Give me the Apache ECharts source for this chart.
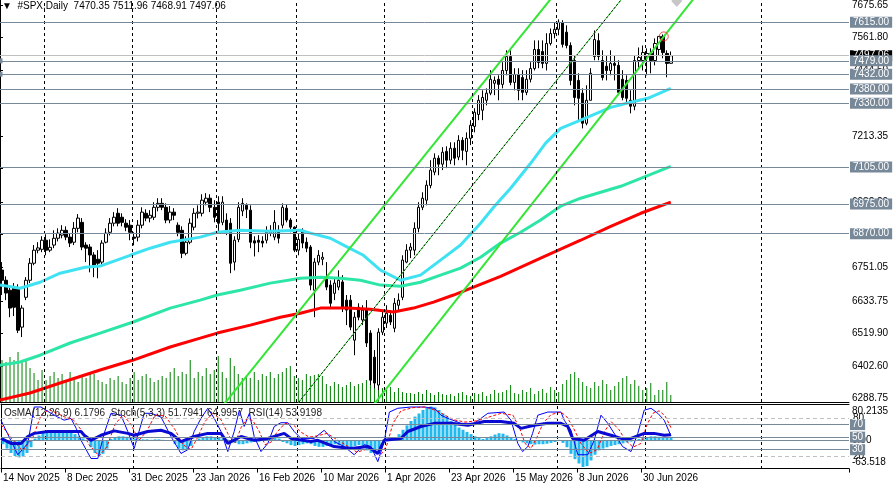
<!DOCTYPE html>
<html>
<head>
<meta charset="utf-8">
<title>#SPX,Daily</title>
<script src="https://cdn.jsdelivr.net/npm/echarts@6.0.0/dist/echarts.min.js"></script>
<style>
  * { margin: 0; padding: 0; }
  body { background: #ffffff; }
  #main { width: 894px; height: 489px; }
</style>
</head>
<body>
<div id="main"></div>
<script>
// daily bars from 14 Nov 2025, each [open, close, low, high]
var candles = [
  [6742,6706,6654,6770],[6706,6661,6636,6720],[6671,6608,6576,6689],[6682,6611,6580,6696],[6678,6530,6520,6692],[6541,6608,6506,6618],
  [6646,6706,6636,6717],[6706,6766,6696,6784],[6766,6812,6759,6830],[6812,6820,6801,6840],[6815,6847,6805,6861],[6847,6812,6794,6868],
  [6812,6822,6805,6850],[6830,6854,6819,6882],[6854,6872,6843,6889],[6865,6882,6854,6900],[6882,6858,6847,6896],[6858,6837,6823,6872],
  [6840,6889,6830,6911],[6889,6925,6875,6939],[6910,6823,6812,6925],[6830,6819,6770,6840],[6823,6795,6734,6833],[6795,6759,6717,6805],
  [6780,6766,6713,6812],[6770,6837,6759,6847],[6840,6872,6836,6889],[6875,6907,6864,6925],[6907,6928,6896,6946],[6942,6907,6896,6960],
  [6928,6910,6896,6942],[6907,6893,6879,6921],[6900,6875,6847,6918],[6858,6854,6829,6875],[6858,6900,6843,6918],[6900,6946,6889,6963],
  [6942,6925,6914,6956],[6925,6935,6910,6953],[6928,6963,6918,6981],[6963,6977,6949,6995],[6977,6963,6953,6995],[6963,6918,6907,6977],
  [6918,6946,6907,6967],[6946,6935,6918,6960],[6900,6875,6861,6910],[6882,6801,6784,6896],[6801,6840,6794,6861],[6840,6907,6833,6924],
  [6893,6942,6882,6960],[6942,6946,6924,6970],[6942,6988,6931,7009],[6981,6995,6970,7013],[6995,6963,6946,7009],[6963,6928,6910,6988],
  [6981,6907,6872,7002],[6910,6981,6900,7002],[6918,6882,6865,6942],[6907,6766,6731,6925],[6770,6847,6741,6861],[6850,6963,6840,6981],
  [6950,6977,6932,6995],[6970,6956,6925,6977],[6953,6840,6819,6970],[6845,6837,6790,6861],[6847,6840,6805,6865],[6844,6837,6822,6861],
  [6847,6875,6836,6896],[6872,6882,6861,6900],[6858,6910,6847,6953],[6882,6854,6836,6900],[6900,6963,6889,6977],[6960,6918,6910,6974],
  [6918,6893,6875,6925],[6893,6812,6805,6896],[6812,6850,6794,6871],[6882,6837,6819,6889],[6840,6819,6805,6857],[6823,6689,6671,6830],
  [6671,6770,6576,6784],[6770,6794,6759,6812],[6780,6787,6759,6805],[6717,6682,6671,6770],[6689,6625,6611,6706],[6660,6696,6636,6713],
  [6682,6706,6671,6741],[6700,6611,6594,6724],[6636,6601,6548,6654],[6636,6541,6530,6654],[6495,6576,6442,6594],[6611,6576,6565,6625],
  [6566,6601,6548,6618],[6601,6485,6471,6636],[6520,6354,6337,6530],[6435,6344,6326,6460],[6337,6523,6319,6537],[6523,6576,6513,6594],
  [6555,6590,6538,6618],[6583,6559,6548,6601],[6537,6625,6523,6643],[6618,6636,6601,6660],[6646,6777,6636,6794],[6770,6812,6766,6833],
  [6812,6823,6784,6837],[6812,6889,6794,6910],[6889,6963,6875,6981],[6963,6995,6953,7016],[6988,7041,6970,7058],[7040,7094,7030,7129],
  [7087,7136,7076,7153],[7136,7115,7076,7146],[7115,7157,7094,7175],[7160,7129,7101,7178],[7129,7171,7115,7192],[7171,7136,7111,7192],
  [7140,7199,7129,7217],[7199,7164,7129,7210],[7160,7206,7111,7227],[7206,7252,7182,7270],[7248,7298,7227,7312],[7290,7340,7270,7358],
  [7305,7350,7270,7375],[7340,7365,7322,7382],[7365,7414,7358,7446],[7400,7410,7358,7424],[7414,7396,7340,7428],[7396,7445,7382,7474],
  [7445,7494,7428,7516],[7494,7403,7393,7516],[7403,7431,7375,7453],[7431,7375,7340,7453],[7420,7368,7340,7446],[7368,7414,7358,7446],
  [7414,7452,7403,7474],[7452,7519,7445,7551],[7519,7473,7453,7551],[7512,7470,7453,7551],[7470,7540,7445,7576],[7540,7575,7533,7593],
  [7575,7590,7558,7615],[7590,7615,7569,7625],[7612,7537,7526,7622],[7580,7533,7523,7604],[7533,7410,7393,7544],[7480,7350,7322,7498],
  [7410,7347,7270,7435],[7365,7259,7241,7382],[7259,7340,7252,7393],[7340,7435,7340,7453],[7494,7554,7481,7586],[7550,7494,7481,7576],
  [7480,7420,7410,7516],[7460,7445,7410,7498],[7445,7470,7428,7516],[7470,7463,7410,7498],[7463,7368,7358,7481],[7414,7350,7340,7446],
  [7410,7347,7333,7428],[7340,7319,7294,7375],[7319,7480,7305,7498],[7480,7491,7453,7526],[7480,7508,7445,7533],[7494,7505,7428,7523],
  [7505,7480,7435,7523],[7480,7540,7463,7558],[7519,7565,7498,7566],[7565,7508,7488,7572],[7505,7470,7421,7516],[7470.35,7497.06,7468.91,7511.96]
];

var volumes = [
  42,40,45,42,50,40,42,34,29,22,32,22,26,30,24,28,22,30,25,20,26,
  24,30,28,22,20,18,24,22,26,20,18,24,30,22,26,28,24,20,22,26,
  24,30,34,26,30,28,42,24,30,26,34,28,32,46,30,24,44,36,28,24,
  26,24,30,22,28,26,30,24,28,30,34,36,26,24,22,28,26,
  27,28,26,18,16,20,18,15,17,20,16,18,19,22,18,20,17,14,12,15,10,14,10,
  9,9,8,10,8,12,9,7,10,8,7,8,6,9,10,7,6,9,8,10,6,8,12,9,
  10,12,17,9,8,12,10,14,8,11,13,9,15,12,10,
  18,22,28,30,24,20,16,14,20,16,22,18,12,16,20,24,26,18,22,16,
  12,14,19,7,12,12,20,7
];

var osma = [
  -8,-18,-28,-35,-38,-36,-28,-15,5,12,18,22,24,24,23,22,20,18,15,10,5,0,
  -15,-28,-35,-30,-18,4,8,10,10,9,8,5,3,3,3,2,3,3,2,1,0,
  -8,-18,-22,-20,-12,2,5,8,10,10,8,6,5,3,-2,-5,-8,-8,-6,-4,-3,-2,0,3,5,6,5,
  -3,-6,-10,-12,-10,-8,-6,-8,-12,-14,-14,-12,-10,-8,-10,-14,-16,-15,-12,-10,-15,-22,-28,-26,-18,
  2,5,4,8,15,25,35,45,55,62,70,75,78,76,70,62,55,45,38,30,25,20,15,
  10,6,4,6,10,14,17,16,12,8,4,-1,-4,-6,-8,-9,-8,-8,-7,-5,-3,2,
  -5,-15,-30,-42,-52,-60,-58,-45,-32,-22,-18,-15,-12,-10,-8,-6,-4,-2,
  2,4,6,8,10,10,9,8,7,6.1796
];

// [bar position, value]
var stochMain = [
  [0,77],[4.2,22],[6.7,40],[8.3,98],[10,98],[12.5,88],[14.2,82],[15.8,77],[17.5,80],[18.8,64],[20,45],[22.5,16],
  [24.2,16],[25.8,56],[27.5,88],[30,85],[31.7,59],[33.3,32],[35.8,88],[37.5,88],[40,82],[42.5,51],[45,24],[46.7,30],
  [48.3,59],[50,80],[51.7,96],[53.3,80],[55,59],[56.7,27],[58.3,59],[59.6,93],[60.8,67],[62.1,88],[63.3,51],[65,27],
  [66.7,40],[68.3,67],[70,73],[71.7,73],[73.3,59],[75,48],[78.3,48],[80.8,61],[83.3,43],[85.8,35],[88.3,22],[90.8,38],
  [92.5,35],[94.2,11],[95.8,43],[97.1,90],[99.2,96],[102.5,98],[105.8,98],[108.3,96],[110,85],[111.7,80],[115,72],
  [118.3,72],[121.7,88],[125.8,90],[127.5,77],[129.2,40],[130.4,27],[131.7,35],[132.9,56],[134.2,85],[136.7,90],
  [140,90],[140.8,77],[142.5,61],[144.2,22],[146.7,22],[148.3,45],[150,85],[151.7,72],[153.8,51],[155.4,35],
  [157.5,27],[159.2,56],[160.8,93],[162.5,96],[164.2,88],[165.8,77],[167.5,51.7941]
];
var stochSignal = [
  [0,70],[3,45],[5.5,28],[8,50],[10,85],[12,94],[14,88],[16,82],[18,78],[20,62],[22,38],[24.5,20],[26.5,35],
  [28.5,70],[30.5,86],[32.5,70],[34.5,45],[36.5,60],[38.5,85],[41,84],[43.5,62],[45.5,38],[47.5,30],[49,48],
  [51,75],[53,88],[55,78],[57,52],[58.5,40],[60,65],[61.5,80],[63,76],[64.5,60],[66,38],[67.5,42],[69,58],
  [71,72],[73,70],[75,58],[77,50],[79,52],[81.5,56],[84,46],[86.5,36],[89,26],[91,30],[93,32],[95,22],[96.5,38],
  [98,72],[100,92],[103,97],[106,98],[109,92],[111,85],[113,78],[116,74],[119,76],[122,82],[125,88],[128,85],
  [129.8,62],[131,40],[132.5,32],[134,50],[135.5,72],[137.5,86],[140,90],[141.5,82],[143,66],[145,40],[147,24],
  [149,30],[151,60],[152.5,75],[154.5,62],[156,46],[158,34],[160,40],[161.5,70],[163,88],[164.5,92],[166,84],[167.5,64.9957]
];
var rsi = [
  [0,48],[2.5,40],[5,40],[6.7,51],[8.3,56],[11.7,59],[16.7,59],[20,59],[20.8,53],[22.5,45],[25,53],[28.3,60],
  [31.7,56],[33.3,53],[36.7,59],[40,61],[42.5,56],[45,43],[48.3,51],[51.7,56],[55,56],[56.7,40],[60,51],[63.3,45],
  [66.7,48],[70.8,56],[72.5,48],[77.5,43],[79.2,45],[83.3,35],[87.5,32],[91.7,35],[94.2,24],[95.8,45],[100,48],
  [101.7,59],[105,67],[108.3,72],[112.5,72],[116.7,69],[120.8,75],[125,75],[128.3,72],[130,64],[133.3,69],
  [136.7,72],[140,72],[141.7,67],[142.9,48],[145.8,45],[149.2,59],[152.5,53],[155,48],[157.5,48],[160.8,56],
  [163.3,56],[165.8,53],[167.5,53.9198]
];

var ma50 = [
  [0,6689],[5,6678],[10,6699],[15,6731],[21.25,6752],[25,6756],[32.5,6794],[37.5,6819],[42.5,6840],[50,6858],
  [54.25,6875],[60,6882],[67.5,6879],[75,6882],[77.5,6872],[82.5,6854],[86.75,6823],[90.75,6794],[95,6742],
  [100,6706],[105,6724],[110,6777],[115,6830],[120,6907],[123.25,6963],[127.5,7030],[132.5,7118],[136.25,7189],
  [140,7241],[145,7270],[152.5,7315],[157.5,7333],[161.75,7347],[167.5,7382]
];
var ma100 = [
  [0,6407],[5,6418],[10,6442],[17.5,6485],[25,6520],[33.25,6559],[42.5,6608],[50,6636],[54.25,6654],[60,6671],
  [67.5,6696],[75,6713],[80,6717],[85,6713],[90,6706],[95,6689],[100,6685],[105,6699],[110,6724],[115,6749],
  [120,6787],[125,6837],[130,6875],[135,6918],[140,6967],[145,6995],[150,7016],[155,7037],[160,7065],[167.5,7107]
];
var ma200 = [
  [0,6284],[7.5,6309],[15,6344],[25,6390],[33.25,6425],[42.5,6471],[50,6502],[54.25,6520],[62.5,6548],[70,6576],
  [75,6590],[80,6608],[86.75,6608],[92.5,6604],[98.25,6594],[103.25,6608],[108.25,6629],[113.25,6654],
  [118.25,6682],[125,6720],[135,6784],[145,6847],[152.5,6896],[160,6942],[167.5,6981]
];

var channelUpper = [[55,6253],[138,7705]];
var channelMiddle = [[74,6266],[156,7710]];
var channelLower = [[93,6262],[174,7712]];
var signalMark = [[165.75,7565]];
var arrowMark = [[169,7690]];

var priceLevels = [7615, 7479, 7432, 7380, 7330, 7105, 6975, 6870];
var anchoredLevels = [7479, 7432];
var bidPrice = 7497.06;
var priceTicks = [6288.75, 6402.60, 6519.90, 6633.75, 6751.05, 6868.35, 6982.20, 7099.50, 7213.35, 7330.65, 7444.50, 7561.80, 7675.65];
var oscLevels = [70, 50, 30];
var oscDashed = [80, 20];
var monthBreaks = [11, 33, 54, 74, 96, 118, 139, 161, 190];
var holidays = ['2025-12-25', '2026-01-01'];
var firstDay = '2025-11-14';
var futureSlots = 44;

var FONT = "'Liberation Sans', Arial, sans-serif";
var monthNames = ['Jan','Feb','Mar','Apr','May','Jun','Jul','Aug','Sep','Oct','Nov','Dec'];

function tradingDays(start, n) {
  var out = [];
  var d = new Date(start + 'T00:00:00Z');
  while (out.length < n) {
    var dow = d.getUTCDay();
    var iso = d.toISOString().slice(0, 10);
    if (dow !== 0 && dow !== 6 && holidays.indexOf(iso) < 0) {
      out.push(d.getUTCDate() + ' ' + monthNames[d.getUTCMonth()] + ' ' + d.getUTCFullYear());
    }
    d.setUTCDate(d.getUTCDate() + 1);
  }
  return out;
}

var dates = tradingDays(firstDay, candles.length);
var slots = dates.concat(new Array(futureSlots).fill(''));
var nSlots = slots.length;

function showDate(idx, val) { return val !== '' && idx % 16 === 0; }

var last = candles[candles.length - 1];
var header = '\u25BC  #SPX,Daily  ' + last[0].toFixed(2) + ' ' + last[3].toFixed(2) + ' ' + last[2].toFixed(2) + ' ' + last[1].toFixed(2);
var oscHeader = 'OsMA(12,26,9) ' + osma[osma.length - 1].toFixed(4) +
  '  Stoch(5,3,3) ' + stochMain[stochMain.length - 1][1].toFixed(4) + ' ' + stochSignal[stochSignal.length - 1][1].toFixed(4) +
  '  RSI(14) ' + rsi[rsi.length - 1][1].toFixed(4);

var boxLabel = {
  position: 'end', distance: 1, color: '#ffffff', backgroundColor: '#778899',
  padding: [1, 3, 0, 3], fontSize: 10, fontFamily: FONT, lineHeight: 10
};

var levelData = [{
  yAxis: bidPrice, lineStyle: { color: '#c0c0c0' },
  label: { backgroundColor: '#000000' }
}].concat(priceLevels.map(function (v) {
  var item = { yAxis: v };
  if (anchoredLevels.indexOf(v) >= 0) { item.symbol = ['emptyRect', 'emptyRect']; item.symbolSize = 5; }
  return item;
}));

var myChart = echarts.init(document.getElementById('main'));

var option = {
  animation: false,
  backgroundColor: '#ffffff',
  textStyle: { fontFamily: FONT },
  title: [
    { text: header, left: 2, top: 1, padding: 0,
      textStyle: { fontSize: 10, fontWeight: 'normal', color: '#000', fontFamily: FONT } },
    { text: oscHeader, left: 4, top: 408, padding: 0,
      textStyle: { fontSize: 10, fontWeight: 'normal', color: '#222', fontFamily: FONT } }
  ],
  grid: [
    { left: 0, right: 45, top: 0, height: 402 },
    { left: 0, right: 45, top: 300, height: 102 },
    { left: 0, right: 45, top: 404, height: 65 }
  ],
  xAxis: [
    { type: 'category', gridIndex: 0, data: slots, boundaryGap: true,
      axisLine: { show: true, lineStyle: { color: '#000' } }, axisTick: { show: false }, axisLabel: { show: false }, splitLine: { show: false } },
    { type: 'value', gridIndex: 0, min: 0, max: nSlots, show: false },
    { type: 'category', gridIndex: 1, data: slots, show: false },
    { type: 'category', gridIndex: 2, data: slots, boundaryGap: true,
      axisLine: { show: true, lineStyle: { color: '#000' } },
      axisTick: { show: true, interval: showDate, length: 4, lineStyle: { color: '#000' } },
      axisLabel: { interval: showDate, align: 'left', margin: 4, fontSize: 10, color: '#000', fontFamily: FONT },
      splitLine: { show: false } },
    { type: 'value', gridIndex: 2, min: 0, max: nSlots, position: 'top',
      axisLine: { show: true, onZero: false, lineStyle: { color: '#000' } },
      axisTick: { show: false }, axisLabel: { show: false }, splitLine: { show: false } }
  ],
  yAxis: [
    { type: 'value', gridIndex: 0, position: 'right', min: 6277.2, max: 7692.2,
      axisLine: { show: true, lineStyle: { color: '#000' } },
      axisTick: { show: true, length: 3, customValues: priceTicks, lineStyle: { color: '#000' } },
      axisLabel: { customValues: priceTicks, margin: 3, fontSize: 10, color: '#000', fontFamily: FONT,
        formatter: function (v) { return v.toFixed(2); } },
      splitLine: { show: false } },
    { type: 'value', gridIndex: 1, min: 0, max: 102, show: false },
    { type: 'value', gridIndex: 2, position: 'right', offset: 0, min: -0.73, max: 102.8,
      axisLine: { show: true, lineStyle: { color: '#000' } },
      axisTick: { show: false },
      axisLabel: { customValues: oscDashed, margin: 4, fontSize: 10, color: '#000', fontFamily: FONT },
      splitLine: { show: false } },
    { type: 'value', gridIndex: 2, position: 'right', offset: 0, min: -64.55, max: 83.7,
      axisLine: { show: false }, axisTick: { show: false },
      axisLabel: { customValues: [66.1, 0, -50.2], margin: 3, fontSize: 10, color: '#000', fontFamily: FONT,
        formatter: function (v) { return v > 30 ? '80.2135' : (v < -30 ? '-63.518' : '0.00'); } },
      splitLine: { show: false } }
  ],
  series: [
    { // month separators, price panel
      type: 'line', xAxisIndex: 1, yAxisIndex: 0, data: [], z: 1, silent: true,
      markLine: { symbol: 'none', silent: true, animation: false, label: { show: false },
        lineStyle: { color: '#000', type: [3, 3], width: 1 },
        data: monthBreaks.map(function (v) { return { xAxis: v }; }) }
    },
    { // month separators, oscillator panel
      type: 'line', xAxisIndex: 4, yAxisIndex: 2, data: [], z: 1, silent: true,
      markLine: { symbol: 'none', silent: true, animation: false, label: { show: false },
        lineStyle: { color: '#000', type: [3, 3], width: 1 },
        data: monthBreaks.map(function (v) { return { xAxis: v }; }) }
    },
    { name: 'Volume', type: 'bar', xAxisIndex: 2, yAxisIndex: 1, data: volumes, barWidth: 1,
      itemStyle: { color: '#008000' }, silent: true },
    { name: '#SPX', type: 'candlestick', xAxisIndex: 0, yAxisIndex: 0, data: candles, barWidth: 3,
      itemStyle: { color: '#ffffff', color0: '#000000', borderColor: '#000000', borderColor0: '#000000', borderWidth: 1 },
      markLine: { symbol: 'none', silent: true, animation: false, z: 6,
        label: Object.assign({ formatter: function (p) { return p.value.toFixed(2); } }, boxLabel),
        lineStyle: { color: '#778899', width: 1, type: 'solid' },
        itemStyle: { color: '#778899' },
        data: levelData }
    },
    { name: 'MA200', type: 'line', xAxisIndex: 1, yAxisIndex: 0, data: ma200, showSymbol: false,
      lineStyle: { color: '#ff0000', width: 3 }, silent: true },
    { name: 'MA100', type: 'line', xAxisIndex: 1, yAxisIndex: 0, data: ma100, showSymbol: false,
      lineStyle: { color: '#2de6a6', width: 3 }, silent: true },
    { name: 'MA50', type: 'line', xAxisIndex: 1, yAxisIndex: 0, data: ma50, showSymbol: false,
      lineStyle: { color: '#3fe2f2', width: 3 }, silent: true },
    { type: 'line', xAxisIndex: 1, yAxisIndex: 0, data: channelUpper, showSymbol: false,
      lineStyle: { color: '#33e633', width: 2 }, silent: true },
    { type: 'line', xAxisIndex: 1, yAxisIndex: 0, data: channelLower, showSymbol: false,
      lineStyle: { color: '#33e633', width: 2 }, silent: true },
    { type: 'line', xAxisIndex: 1, yAxisIndex: 0, data: channelMiddle, showSymbol: false,
      lineStyle: { color: '#33e633', width: 1 }, silent: true },
    { type: 'line', xAxisIndex: 1, yAxisIndex: 0, data: channelMiddle, showSymbol: false,
      lineStyle: { color: '#000000', width: 1, type: [2, 2] }, silent: true },
    { type: 'scatter', xAxisIndex: 1, yAxisIndex: 0, data: signalMark, symbol: 'circle', symbolSize: 9,
      itemStyle: { color: 'rgba(0,0,0,0)', borderColor: '#ff2020', borderWidth: 1 }, silent: true, z: 7 },
    { type: 'scatter', xAxisIndex: 1, yAxisIndex: 0, data: arrowMark, symbol: 'diamond', symbolSize: [11, 12],
      itemStyle: { color: '#b8b8b8' }, silent: true },
    { name: 'OsMA', type: 'bar', xAxisIndex: 3, yAxisIndex: 3, data: osma, barWidth: 3,
      itemStyle: { color: '#22b9ee' }, silent: true,
      markLine: { symbol: 'none', silent: true, animation: false, label: { show: false },
        lineStyle: { color: '#778899', width: 1, type: 'solid' }, data: [{ yAxis: 0 }] } },
    { name: 'Stoch', type: 'line', xAxisIndex: 4, yAxisIndex: 2, data: stochMain, showSymbol: false,
      lineStyle: { color: '#0000ff', width: 1 }, silent: true, z: 4,
      markLine: { symbol: 'none', silent: true, animation: false, z: 6,
        label: Object.assign({ formatter: function (p) { return String(p.value); } }, boxLabel, { padding: [1, 2, 0, 2] }),
        lineStyle: { color: '#778899', width: 1, type: 'solid' },
        data: oscDashed.map(function (v) {
          return { yAxis: v, lineStyle: { color: '#c0c0c0', type: [4, 3] }, label: { show: false } };
        }).concat(oscLevels.map(function (v) { return { yAxis: v }; })) } },
    { name: 'Signal', type: 'line', xAxisIndex: 4, yAxisIndex: 2, data: stochSignal, showSymbol: false,
      lineStyle: { color: '#ff0000', width: 1, type: [3, 2] }, silent: true, z: 4 },
    { name: 'RSI', type: 'line', xAxisIndex: 4, yAxisIndex: 2, data: rsi, showSymbol: false,
      lineStyle: { color: '#0a0ad2', width: 3 }, silent: true, z: 5 }
  ]
};

myChart.setOption(option);
</script>
</body>
</html>
